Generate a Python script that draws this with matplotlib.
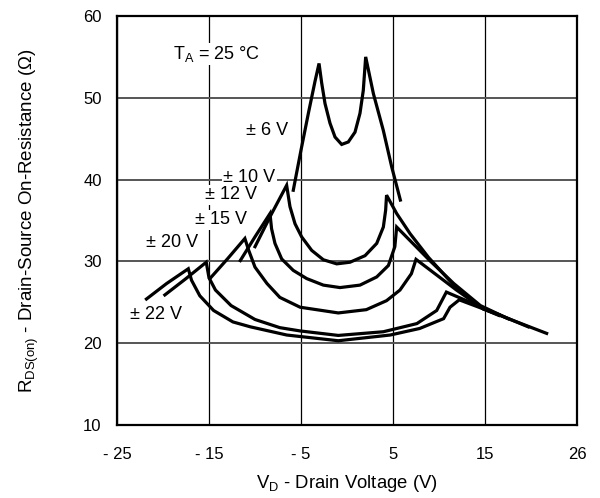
import matplotlib
matplotlib.use('Agg')
import matplotlib.pyplot as plt

plt.rcParams['font.family'] = ['Liberation Sans', 'DejaVu Sans']
plt.rcParams['mathtext.fontset'] = 'custom'
plt.rcParams['mathtext.rm'] = 'Liberation Sans'
plt.rcParams['mathtext.it'] = 'Liberation Sans:italic'
plt.rcParams['font.size'] = 12

## curves: drain voltage (V) and on-resistance (Ohm)
v_6 = [-5.84, -5.0, -4.2, -3.48, -3.04, -2.75, -2.39, -1.85, -1.3, -0.58, 0.14, 0.87, 1.41, 1.77, 2.03,
       2.87, 3.95, 4.86, 5.8]
r_6 = [38.7, 43.6, 48.1, 52.0, 54.2, 51.8, 49.3, 46.9, 45.2, 44.3, 44.6, 45.8, 48.1, 50.9, 55.0,
       50.5, 46.0, 41.55, 37.5]

v_10 = [-10.0, -8.3, -6.56, -6.2, -5.65, -4.93, -3.84, -2.57, -1.12, 0.33, 1.96, 3.23, 3.95, 4.2, 4.3,
        5.4, 6.85, 8.85, 11.6, 14.8, 16.5]
r_10 = [31.8, 35.6, 39.3, 36.7, 34.6, 33.0, 31.35, 30.2, 29.7, 29.9, 30.7, 32.2, 34.2, 36.25, 38.1,
        35.85, 33.4, 30.5, 27.1, 24.2, 23.5]

v_12 = [-11.6, -10.0, -8.37, -8.2, -7.83, -7.1, -5.84, -4.38, -2.57, -0.76, 1.41, 3.23, 4.5, 5.2, 5.4,
        9.0, 11.6, 14.5, 17.5]
r_12 = [30.1, 33.0, 35.85, 34.0, 32.2, 30.3, 28.9, 27.9, 27.1, 26.8, 27.1, 28.1, 29.5, 31.8, 34.2,
        30.1, 27.3, 24.6, 23.0]

v_15 = [-14.9, -13.0, -11.1, -10.7, -10.0, -8.7, -7.3, -5.1, -0.95, 2.1, 4.3, 5.76, 7.0, 7.5,
        11.9, 14.8, 16.5]
r_15 = [27.9, 30.3, 32.8, 31.4, 29.3, 27.3, 25.6, 24.4, 23.7, 24.1, 25.2, 26.5, 28.5, 30.25,
        26.5, 24.2, 23.4]

v_20 = [-19.8, -17.5, -15.3, -15.0, -14.3, -12.6, -10.0, -7.3, -5.1, -0.95, 3.95, 7.6, 9.75, 10.8,
        13.4, 16.5, 19.7]
r_20 = [25.9, 27.9, 29.9, 28.0, 26.5, 24.6, 22.9, 21.9, 21.5, 20.95, 21.4, 22.4, 24.0, 26.25,
        25.0, 23.5, 22.0]

v_22 = [-21.8, -19.6, -17.25, -16.9, -16.0, -14.5, -12.4, -10.5, -6.55, -0.95, 4.7, 7.9, 10.5, 11.2, 12.2,
        14.8, 18.0, 21.7]
r_22 = [25.4, 27.3, 29.1, 27.7, 25.8, 24.0, 22.6, 22.0, 21.0, 20.3, 21.0, 21.8, 23.0, 24.4, 25.3,
        24.2, 22.8, 21.2]

curves = [(v_6, r_6), (v_10, r_10), (v_12, r_12), (v_15, r_15), (v_20, r_20), (v_22, r_22)]
curve_labels = ['± 6 V', '± 10 V', '± 12 V', '± 15 V', '± 20 V', '± 22 V']

x_ticks = [-25, -15, -5, 5, 15, 25]
x_tick_labels = ['- 25', '- 15', '- 5', '5', '15', '26']
y_ticks = [10, 20, 30, 40, 50, 60]

fig = plt.figure(figsize=(6, 4.98), dpi=100)
ax = fig.add_axes([117/600, 1 - 425/498, 460/600, 409/498])

for v, r in curves:
    ax.plot(v, r, color='black', lw=2.3, solid_joinstyle='miter', zorder=3)

ax.set_xlim(-25, 25)
ax.set_ylim(10, 60)
ax.set_xticks(x_ticks)
ax.set_xticklabels(x_tick_labels)
ax.set_yticks(y_ticks)
ax.tick_params(axis='both', length=0, labelsize=12)
ax.tick_params(axis='x', pad=16)
ax.tick_params(axis='y', pad=11)

ax.xaxis.grid(True, color='black', lw=0.9)
ax.yaxis.grid(True, color='#555555', lw=1.4)
ax.set_axisbelow(True)
for s in ax.spines.values():
    s.set_linewidth(1.6)

## labels next to the curves (right edge, centre)
label_pos = [(-6.4, 46.0), (-7.8, 40.2), (-9.8, 38.15), (-10.9, 35.1), (-16.2, 32.3), (-17.9, 23.5)]
for txt, (x, y) in zip(curve_labels, label_pos):
    ax.text(x, y, txt, ha='right', va='center', fontsize=13, zorder=2,
            bbox=dict(facecolor='white', edgecolor='none', pad=1))

ax.text(-18.9, 55.35, r'T$_\mathrm{A}$ = 25 °C', ha='left', va='center', fontsize=13, zorder=2,
        bbox=dict(facecolor='white', edgecolor='none', pad=1))

ax.set_xlabel(r'V$_\mathrm{D}$ - Drain Voltage (V)', fontsize=13.3, labelpad=8)
ax.set_ylabel(r'R$_\mathrm{DS(on)}$ - Drain-Source On-Resistance (Ω)', fontsize=13.5, labelpad=30)

fig.savefig('out.png', dpi=100)
